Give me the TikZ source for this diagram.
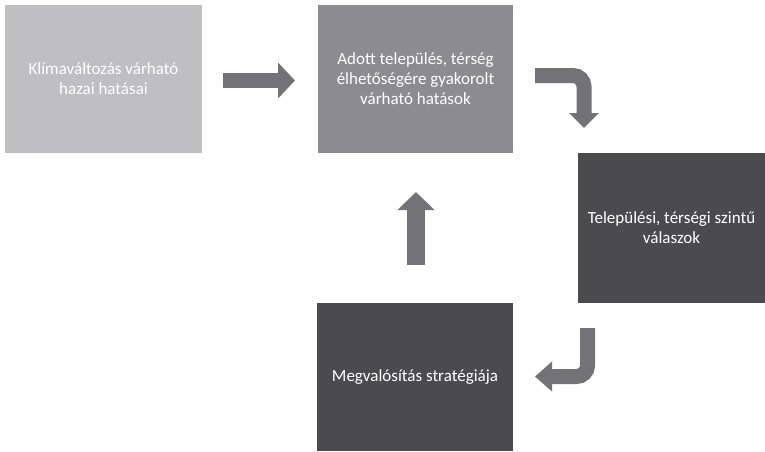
\documentclass[tikz,border=0pt]{standalone}
\usepackage{fontspec}
\setmainfont{Carlito}
\usetikzlibrary{arrows.meta}
\definecolor{cA}{HTML}{BFBFC1}
\definecolor{cB}{HTML}{8C8C8E}
\definecolor{cC}{HTML}{4B4B4D}
\definecolor{cArr}{HTML}{737377}
\tikzset{
  box/.style={rectangle, draw=none, inner sep=0pt, align=center, text=white,
    font=\fontsize{17}{20}\selectfont},
  blockarrow/.style={draw=cArr, line width=15pt},
}
\begin{document}
\begin{tikzpicture}[x=1pt,y=-1pt]
\useasboundingbox (0,0) rectangle (765,451);
\node[box, fill=cA, minimum width=197pt, minimum height=148pt] (klima) at (103.5,79) {Klímaváltozás várható\\hazai hatásai};
\node[box, fill=cB, minimum width=195pt, minimum height=148pt] (adott) at (415.5,79) {Adott település, térség\\élhetőségére gyakorolt\\várható hatások};
\node[box, fill=cC, minimum width=187pt, minimum height=150pt] (valasz) at (671.5,228) {Települési, térségi szintű\\válaszok};
\node[box, fill=cC, minimum width=196pt, minimum height=148pt] (megval) at (415,377) {Megvalósítás stratégiája};
% arrow 1
\coordinate (a1s) at (223,80.5);
\coordinate (a1e) at (295,80.5);
\draw[blockarrow, -{Triangle[length=17pt,width=35pt]}] (a1s) -- (a1e);
% arrow 2 (curved)
\coordinate (a2s) at (535,75.5);
\coordinate (a2e) at (584,128);
\draw[blockarrow, rounded corners=11pt, -{Triangle[length=15pt,width=29pt]}] (a2s) -| (a2e);
% arrow 3 (curved)
\coordinate (a3s) at (587.5,328);
\coordinate (a3e) at (535,376.5);
\draw[blockarrow, rounded corners=11pt, -{Triangle[length=17pt,width=29pt]}] (a3s) |- (a3e);
% arrow 4 (up)
\coordinate (a4s) at (416,265);
\coordinate (a4e) at (416,192);
\draw[blockarrow, line width=18pt, -{Triangle[length=18pt,width=36pt]}] (a4s) -- (a4e);
\end{tikzpicture}
\end{document}
